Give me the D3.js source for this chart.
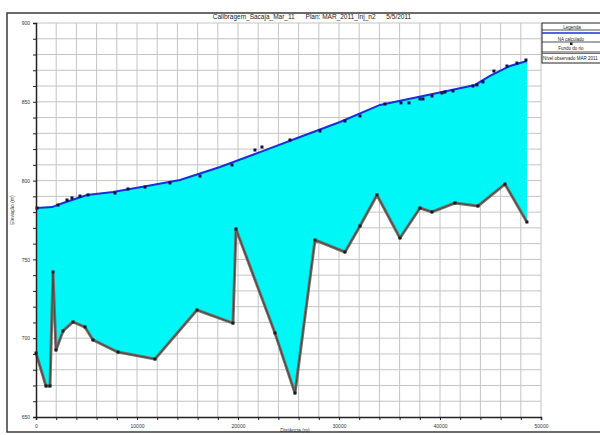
<!DOCTYPE html>
<html>
<head>
<meta charset="utf-8">
<script src="https://cdn.jsdelivr.net/npm/d3@7"></script>
<style>
  html, body { margin: 0; padding: 0; background: #ffffff; }
  svg { display: block; font-family: "Liberation Sans", Arial, sans-serif; }
</style>
</head>
<body>
<svg id="chart" width="600" height="435"></svg>
<script>
// Water surface profile (station m, elevation m)
const wsStation = [0, 1584, 2673, 5049, 7623, 10989, 14256, 18216, 22176, 26136, 30096, 34056, 38313, 40689, 43461, 44946, 46926, 48609];
const wsElev    = [782.6, 783.2, 785.8, 790.9, 792.8, 796.6, 800.4, 808.6, 818.1, 827.7, 837.2, 848.0, 853.7, 856.9, 860.7, 866.4, 872.7, 875.9];

// River bed profile
const bedStation = [0, 990, 1386, 1683, 1980, 2673, 3663, 4851, 5643, 8118, 11781, 15939, 19503, 19800, 23661, 25641, 27621, 30591, 32076, 33759, 36036, 38016, 39204, 41481, 43758, 46431, 48609];
const bedElev    = [690.6, 669.7, 669.7, 742.0, 692.5, 704.6, 710.3, 707.1, 698.9, 691.2, 686.8, 717.9, 709.6, 769.3, 703.3, 665.2, 762.3, 754.7, 771.2, 790.9, 763.6, 782.6, 780.1, 785.8, 783.9, 797.8, 773.7];

// Observed water levels, March 2011
const obsStation = [100, 2178, 3069, 3564, 4356, 5148, 7821, 9108, 10791, 13266, 16236, 19404, 21681, 22374, 25146, 28116, 30591, 32076, 34551, 36135, 36927, 38016, 38313, 39204, 40194, 40491, 41283, 43263, 43659, 44253, 45342, 46629, 47619, 48510];
const obsElev    = [782.6, 784.5, 787.7, 789.0, 790.2, 790.9, 792.1, 794.7, 795.9, 798.5, 802.9, 809.9, 819.4, 821.3, 825.8, 831.5, 837.8, 841.0, 848.6, 849.3, 849.3, 851.8, 851.8, 853.7, 855.6, 856.2, 856.9, 860.0, 860.7, 862.6, 869.5, 872.7, 874.6, 876.5];

const xTicks = [0, 10000, 20000, 30000, 40000, 50000];
const yTicks = [650, 700, 750, 800, 850, 900];
const legendLabels = ["Legenda", "NA calculado", "Fundo do rio", "Nível observado MAR 2011"];
const titleText = "Calibragem_Sacaja_Mar_11      Plan: MAR_2011_Inj_n2      5/5/2011";

const svg = d3.select("#chart");
const plotLeft = 36, plotRight = 541, plotTop = 23, plotBottom = 417;

const x = d3.scaleLinear().domain([0, 50000]).range([plotLeft, plotRight]);
const y = d3.scaleLinear().domain([650, 900]).range([plotBottom, plotTop]);

// outer frame
svg.append("rect").attr("x", 7).attr("y", 13).attr("width", 610).attr("height", 419)
  .attr("fill", "none").attr("stroke", "#3a3a3a").attr("stroke-width", 1.5);

// grid
const g = svg.append("g");
g.selectAll("line.vg").data(d3.range(2000, 50001, 2000)).join("line")
  .attr("x1", d => x(d)).attr("x2", d => x(d)).attr("y1", plotTop).attr("y2", plotBottom)
  .attr("stroke", "#c4c4c4").attr("stroke-width", 1);
g.selectAll("line.hg").data(d3.range(660, 901, 10)).join("line")
  .attr("x1", plotLeft).attr("x2", plotRight).attr("y1", d => y(d)).attr("y2", d => y(d))
  .attr("stroke", "#c4c4c4").attr("stroke-width", 1);

// fill between water surface and bed
const ws = wsStation.map((s, i) => [s, wsElev[i]]);
const bed = bedStation.map((s, i) => [s, bedElev[i]]);
const line = d3.line().x(d => x(d[0])).y(d => y(d[1]));
svg.append("path").attr("d", line(ws.concat(bed.slice().reverse())) + "Z")
  .attr("fill", "#00f7f7").attr("stroke", "none");

// bed line
svg.append("path").attr("d", line(bed)).attr("fill", "none")
  .attr("stroke", "#727272").attr("stroke-width", 3).attr("stroke-linejoin", "round");
svg.append("path").attr("d", line(bed)).attr("fill", "none")
  .attr("stroke", "#3d3d2a").attr("stroke-width", 0.8);
svg.selectAll("rect.bm").data(bed).join("rect")
  .attr("x", d => x(d[0]) - 1.5).attr("y", d => y(d[1]) - 1.5)
  .attr("width", 3).attr("height", 3).attr("fill", "#1b1b1b");

// water surface line
svg.append("path").attr("d", line(ws)).attr("fill", "none")
  .attr("stroke", "#1c2fd6").attr("stroke-width", 2);

// observed points
const obs = obsStation.map((s, i) => [s, obsElev[i]]);
svg.selectAll("rect.obs").data(obs).join("rect")
  .attr("x", d => x(d[0]) - 1.5).attr("y", d => y(d[1]) - 1.5)
  .attr("width", 3).attr("height", 3).attr("fill", "#10104a");

// axes
const xAxis = d3.axisBottom(x).tickValues(d3.range(0, 50001, 2000)).tickSize(3)
  .tickFormat(d => xTicks.includes(d) ? d3.format("d")(d) : "");
const gx = svg.append("g").attr("transform", `translate(0,${plotBottom})`).call(xAxis);
gx.select(".domain").attr("stroke", "#222").attr("stroke-width", 1.5);
gx.selectAll(".tick line").attr("stroke", "#222");
gx.selectAll(".tick text").attr("font-size", 5).attr("fill", "#333").attr("dy", "0.9em");

const yAxis = d3.axisLeft(y).tickValues(d3.range(650, 901, 10)).tickSize(3)
  .tickFormat(d => yTicks.includes(d) ? d : "");
const gy = svg.append("g").attr("transform", `translate(${plotLeft},0)`).call(yAxis);
gy.select(".domain").attr("stroke", "#222").attr("stroke-width", 1.5);
gy.selectAll(".tick line").attr("stroke", "#222");
gy.selectAll(".tick text").attr("font-size", 5).attr("fill", "#333");

// titles
svg.append("text").attr("x", 312).attr("y", 19).attr("text-anchor", "middle")
  .attr("font-size", 6.5).attr("fill", "#222").style("white-space", "pre").text(titleText);
svg.append("text").attr("x", 295).attr("y", 432).attr("text-anchor", "middle")
  .attr("font-size", 5).attr("fill", "#333").text("Distância (m)");
svg.append("text").attr("transform", "translate(14,210) rotate(-90)").attr("text-anchor", "middle")
  .attr("font-size", 5).attr("fill", "#333").text("Elevação (m)");

// legend
const lg = svg.append("g");
lg.append("rect").attr("x", 542).attr("y", 23).attr("width", 70).attr("height", 40)
  .attr("fill", "#fff").attr("stroke", "#222").attr("stroke-width", 1);
[30, 42, 52].forEach(yy => lg.append("line").attr("x1", 542).attr("x2", 612)
  .attr("y1", yy).attr("y2", yy).attr("stroke", "#222").attr("stroke-width", 0.8));
lg.append("line").attr("x1", 542).attr("x2", 612).attr("y1", 33).attr("y2", 33)
  .attr("stroke", "#1c2fd6").attr("stroke-width", 1.5);
lg.append("rect").attr("x", 570).attr("y", 42.5).attr("width", 2.5).attr("height", 2.5).attr("fill", "#1b1b1b");
lg.append("line").attr("x1", 542).attr("x2", 612).attr("y1", 53.5).attr("y2", 53.5)
  .attr("stroke", "#727272").attr("stroke-width", 1);
lg.append("text").attr("x", 572).attr("y", 28.5).attr("text-anchor", "middle").attr("font-size", 4.5).attr("fill", "#222").text(legendLabels[0]);
lg.append("text").attr("x", 571).attr("y", 40.5).attr("text-anchor", "middle").attr("font-size", 4.5).attr("fill", "#222").text(legendLabels[1]);
lg.append("text").attr("x", 571).attr("y", 50).attr("text-anchor", "middle").attr("font-size", 4.5).attr("fill", "#222").text(legendLabels[2]);
lg.append("text").attr("x", 543).attr("y", 59.5).attr("font-size", 4.5).attr("fill", "#222").text(legendLabels[3]);
</script>
</body>
</html>
